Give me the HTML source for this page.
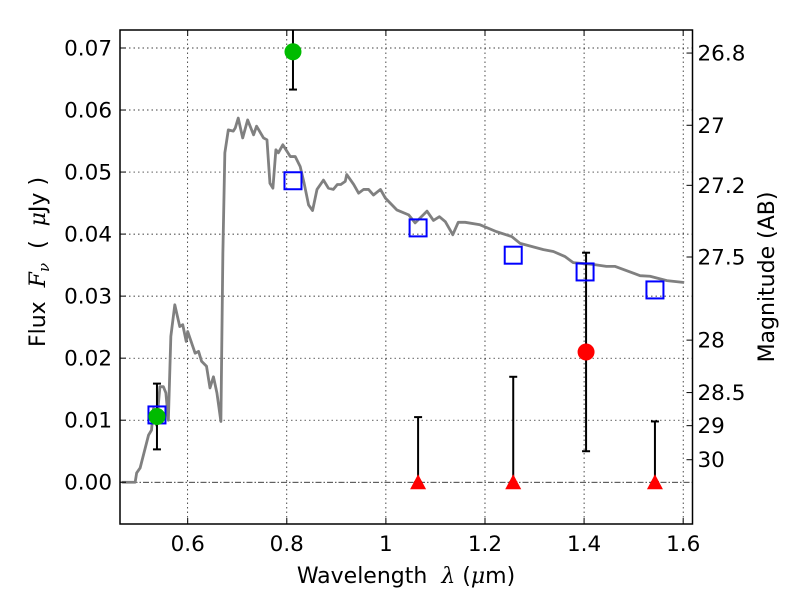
<!DOCTYPE html>
<html><head><meta charset="utf-8"><style>
html,body{margin:0;padding:0;background:#fff;}
svg{display:block;font-family:"DejaVu Sans","Liberation Sans",sans-serif;}
</style></head><body>
<svg id="chart" width="800" height="600" viewBox="0 0 800 600" xmlns="http://www.w3.org/2000/svg"></svg>
<script>
// ---- data ----
const xTicks = [0.6, 0.8, 1.0, 1.2, 1.4, 1.6];
const xTickLabels = ["0.6", "0.8", "1", "1.2", "1.4", "1.6"];
const yTicks = [0, 0.01, 0.02, 0.03, 0.04, 0.05, 0.06, 0.07];
const yTickLabels = ["0.00", "0.01", "0.02", "0.03", "0.04", "0.05", "0.06", "0.07"];
const magTicks = [26.8, 27, 27.2, 27.5, 28, 28.5, 29, 30];
const magTickLabels = ["26.8", "27", "27.2", "27.5", "28", "28.5", "29", "30"];
const specLam = [0.467,0.494,0.497,0.504,0.521,0.527,0.531,0.537,0.544,0.551,0.556,0.561,0.566,0.574,0.584,0.590,0.597,0.600,0.615,0.622,0.628,0.638,0.645,0.652,0.659,0.667,0.671,0.675,0.682,0.692,0.696,0.702,0.711,0.721,0.733,0.739,0.753,0.760,0.766,0.772,0.778,0.783,0.792,0.807,0.817,0.827,0.835,0.844,0.852,0.861,0.874,0.884,0.894,0.902,0.909,0.918,0.921,0.935,0.945,0.955,0.965,0.975,0.989,0.999,1.022,1.046,1.059,1.083,1.096,1.108,1.120,1.135,1.146,1.160,1.190,1.223,1.254,1.271,1.318,1.338,1.361,1.378,1.419,1.445,1.462,1.513,1.533,1.567,1.602];
const specFlux = [0,0,0.0015,0.0023,0.0076,0.0084,0.0119,0.0092,0.0154,0.0154,0.0144,0.0100,0.0235,0.0286,0.0251,0.0254,0.0227,0.0243,0.0208,0.0211,0.0195,0.0187,0.0152,0.0170,0.0144,0.0098,0.0369,0.0531,0.0568,0.0566,0.0571,0.0587,0.0555,0.0584,0.0560,0.0574,0.0555,0.0552,0.0482,0.0474,0.0536,0.0531,0.0544,0.0525,0.0525,0.0509,0.0482,0.0447,0.0438,0.0472,0.0487,0.0474,0.0472,0.0480,0.0480,0.0485,0.0496,0.0480,0.0466,0.0472,0.0472,0.0463,0.0472,0.0458,0.0439,0.0431,0.0418,0.0437,0.0422,0.0428,0.0420,0.0399,0.0419,0.0419,0.0415,0.0404,0.0396,0.0385,0.0375,0.0372,0.0364,0.0354,0.0351,0.0348,0.0348,0.0333,0.0332,0.0325,0.0322];
const modelLam = [0.538, 0.8125, 1.065, 1.257, 1.402, 1.543];
const modelFlux = [0.01085, 0.0486, 0.0410, 0.0366, 0.0339, 0.0310];
const detLam = [0.538, 0.8125];
const detFlux = [0.0106, 0.0694];
const detErr = [0.0053, 0.0061];
const redLam = [1.404];
const redFlux = [0.0210];
const redErr = [0.0160];
const ulLam = [1.065, 1.257, 1.543];
const ulFlux = [0, 0, 0];
const ulTop = [0.0105, 0.0170, 0.0098];

// ---- axes ----
const L=120, R=692.5, T=30, B=524;
const xMin=0.4634, xMax=1.6188, yMin=-0.00673, yMax=0.0729;
const X = v => L + (v - xMin) / (xMax - xMin) * (R - L);
const Y = v => B - (v - yMin) / (yMax - yMin) * (B - T);
const magToFlux = m => Math.pow(10, (23.9 - m) / 2.5);

const svg = document.getElementById('chart');
const NS = "http://www.w3.org/2000/svg";
function mk(tag, attrs, parent){
  const e = document.createElementNS(NS, tag);
  for (const k in attrs) e.setAttribute(k, attrs[k]);
  (parent || svg).appendChild(e);
  return e;
}
const clip = mk('clipPath', {id:'pc'});
mk('rect', {x:L, y:T, width:R-L, height:B-T}, clip);

// grid
const grid = mk('g', {});


xTicks.forEach(t => mk('line', {x1:X(t), x2:X(t), y1:T, y2:B, stroke:'#000', 'stroke-width':0.7, 'stroke-dasharray':'1.5,3'}, grid));
yTicks.forEach(t => { if (t !== 0) mk('line', {x1:L, x2:R, y1:Y(t), y2:Y(t), stroke:'#000', 'stroke-width':0.7, 'stroke-dasharray':'1.5,3'}, grid); });

// zero line
const zl = mk('line', {x1:L, x2:R, y1:Y(0), y2:Y(0), stroke:'#000', 'stroke-width':0.8, 'stroke-dasharray':'6,2,1.5,2'});



const plot = mk('g', {'clip-path':'url(#pc)'});
// spectrum
const sp = mk('polyline', {points: specLam.map((l,i)=>X(l)+','+Y(specFlux[i])).join(' '), fill:'none', stroke:'#808080', 'stroke-width':2.8, 'stroke-linejoin':'round'}, plot);



function errbar(x, y1, y2, name){
  const g = mk('g', {stroke:'#000', 'stroke-width':2}, plot);
  
  
  mk('line', {x1:X(x), x2:X(x), y1:Y(y1), y2:Y(y2)}, g);
  mk('line', {x1:X(x)-4, x2:X(x)+4, y1:Y(y1), y2:Y(y1)}, g);
  mk('line', {x1:X(x)-4, x2:X(x)+4, y1:Y(y2), y2:Y(y2)}, g);
}
detLam.forEach((l,i)=>errbar(l, detFlux[i]-detErr[i], detFlux[i]+detErr[i], 'detection-errorbar'));
redLam.forEach((l,i)=>errbar(l, redFlux[i]-redErr[i], redFlux[i]+redErr[i], 'red-errorbar'));
ulLam.forEach((l,i)=>errbar(l, ulFlux[i], ulTop[i], 'upper-limit-errorbar'));

modelLam.forEach((l,i)=>{
  const r = mk('rect', {x:X(l)-8.5, y:Y(modelFlux[i])-8.5, width:17, height:17, fill:'none', stroke:'#0000ff', 'stroke-width':2}, plot);
  
  
});
detLam.forEach((l,i)=>{
  const c = mk('circle', {cx:X(l), cy:Y(detFlux[i]), r:8.5, fill:'#00bb00'}, plot);
  
  
});
redLam.forEach((l,i)=>{
  const c = mk('circle', {cx:X(l), cy:Y(redFlux[i]), r:8.5, fill:'#ff0000'}, plot);
  
  
});
ulLam.forEach((l,i)=>{
  const x = X(l), y = Y(ulFlux[i]);
  const p = mk('polygon', {points:`${x},${y-8} ${x-8},${y+7} ${x+8},${y+7}`, fill:'#ff0000'}, plot);
  
  
});

// frame
const fr = mk('rect', {x:L, y:T, width:R-L, height:B-T, fill:'none', stroke:'#000', 'stroke-width':1.5});



// ticks + labels
const axg = mk('g', {'font-size':21.5, fill:'#000'});


xTicks.forEach((t,i)=>{
  mk('line', {x1:X(t), x2:X(t), y1:B, y2:B-6, stroke:'#000'}, axg);
  mk('line', {x1:X(t), x2:X(t), y1:T, y2:T+6, stroke:'#000'}, axg);
  const tx = mk('text', {x:X(t), y:B+27, 'text-anchor':'middle'}, axg);
  tx.textContent = xTickLabels[i];
  
});
yTicks.forEach((t,i)=>{
  mk('line', {x1:L, x2:L+6, y1:Y(t), y2:Y(t), stroke:'#000'}, axg);
  const tx = mk('text', {x:L-8, y:Y(t)+7.5, 'text-anchor':'end'}, axg);
  tx.textContent = yTickLabels[i];
  
});
magTicks.forEach((m,i)=>{
  const y = Y(magToFlux(m));
  mk('line', {x1:R, x2:R-6, y1:y, y2:y, stroke:'#000'}, axg);
  const tx = mk('text', {x:R+5, y:y+7.5, 'text-anchor':'start'}, axg);
  tx.textContent = magTickLabels[i];
  
});

// titles
const serif = 'DejaVu Serif, Liberation Serif, serif';
const xt = mk('text', {x:406, y:583, 'text-anchor':'middle', 'font-size':22});


xt.innerHTML = 'Wavelength\u00a0\u00a0<tspan font-family="' + serif + '" font-style="italic">λ</tspan> (<tspan font-family="' + serif + '" font-style="italic">μ</tspan>m)';

const yt = mk('text', {transform:'translate(45,262) rotate(-90)', 'text-anchor':'middle', 'font-size':22});


yt.innerHTML = 'Flux\u00a0\u00a0<tspan font-family="' + serif + '" font-style="italic">F</tspan><tspan font-family="' + serif + '" font-style="italic" font-size="15" dy="4">ν</tspan><tspan dy="-4">\u00a0\u00a0(\u00a0\u00a0</tspan><tspan font-family="' + serif + '" font-style="italic">μ</tspan>Jy\u00a0)';

const mt = mk('text', {transform:'translate(774,277) rotate(-90)', 'text-anchor':'middle', 'font-size':22});


mt.textContent = 'Magnitude (AB)';
</script>
</body></html>
